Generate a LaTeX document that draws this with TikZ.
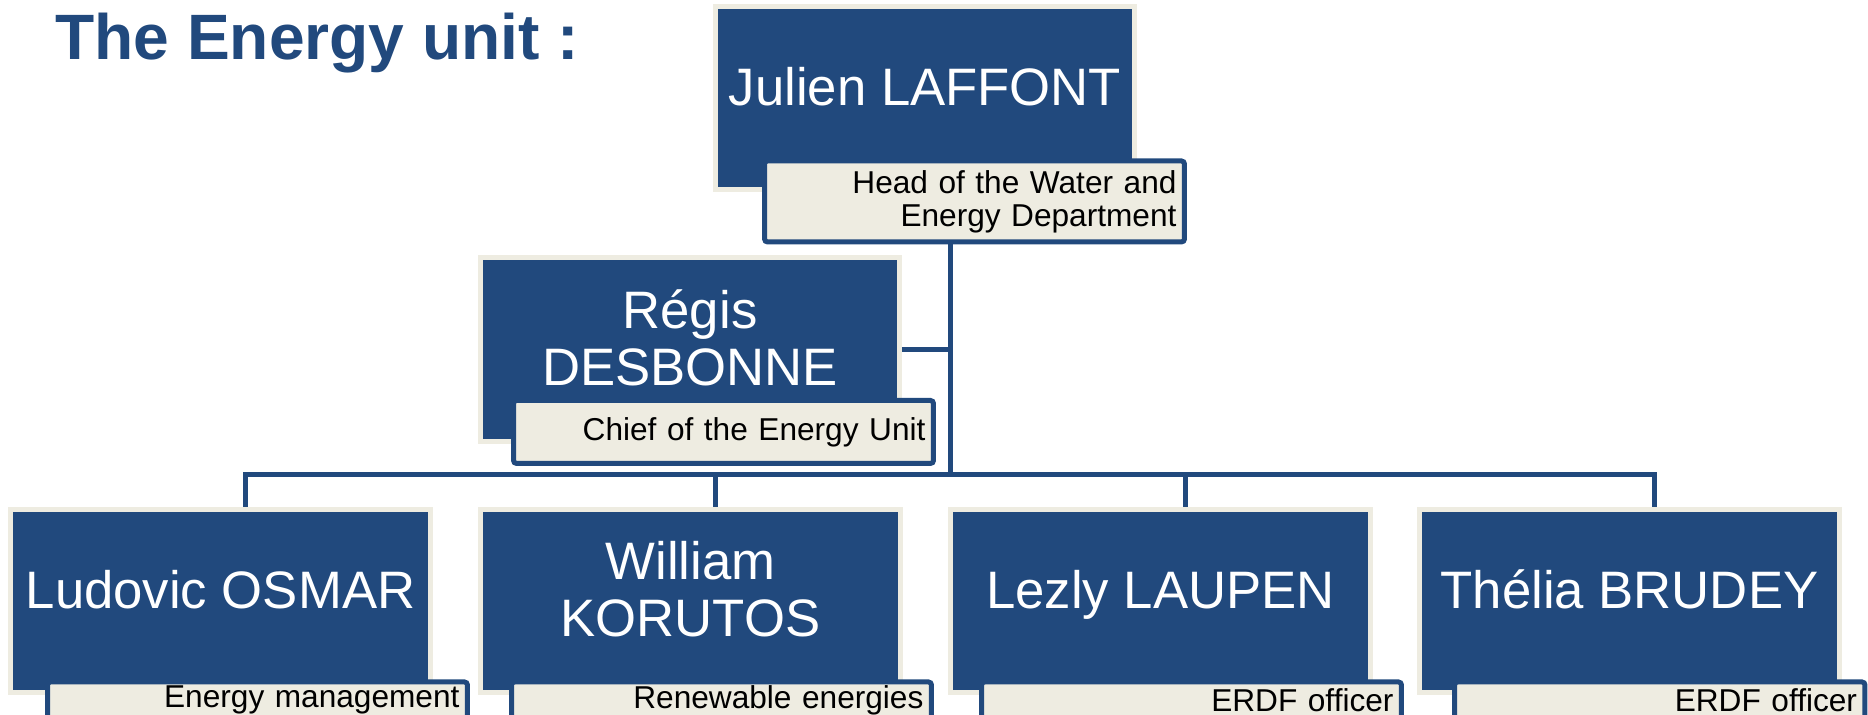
\documentclass[tikz,border=0pt]{standalone}
\usepackage{fontspec}
\setmainfont{Liberation Sans}
\usepackage{xcolor}
\usetikzlibrary{calc,positioning,backgrounds}
\definecolor{unitblue}{RGB}{33,73,125}
\definecolor{unitbeige}{RGB}{238,236,225}
\tikzset{
  person/.style={
      draw=unitbeige,
      fill=unitblue,
      line width=1mm,
      minimum width=84mm,
      minimum height=36.8mm,
      inner sep=0pt,
  },
  who/.style={
      text=white,
      font=\fontsize{30pt}{32.3pt}\selectfont,
      align=center,
      text depth=0pt,
      yshift=2.4mm,
  },
  role/.style={
      draw=unitblue,
      fill=unitbeige,
      line width=1mm,
      rounded corners=0.6mm,
      anchor=north east,
      font=\fontsize{18pt}{18.7pt}\selectfont,
      align=right,
      text width=#1,
      inner xsep=1.6mm,
      inner ysep=0pt,
  },
  role/.default=80.8mm,
  link/.style={
      draw=unitblue,
      line width=1mm,
  },
  heading/.style={
      text=unitblue,
      font=\bfseries\fontsize{36.5pt}{40pt}\selectfont,
      anchor=base west,
      inner sep=0pt,
  },
}

\begin{document}
\begin{tikzpicture}[x=0.02cm,y=-0.02cm]
  \useasboundingbox (0,0) rectangle (1868,715);
  \clip (0,0) rectangle (1868,715);
  \node[heading] (title) at (55,60) {The Energy unit :};

  \node[person,label={[who]center:Julien LAFFONT}] (j) at (925,98) {};
  \node[role,minimum height=16.2mm] (js) at ($(j.south east)+(49.5,-34)$)
    {Head of the Water and\\Energy Department};

  \node[person,label={[who]center:Régis\\DESBONNE}] (r) at (690,349.5) {};
  \node[role,minimum height=12.6mm] (rs) at ($(r.south east)+(33.5,-46)$)
    {Chief of the Energy Unit};

  \node[person,label={[who]center:Ludovic OSMAR}] (l) at (220.5,601) {};
  \node[role,minimum height=7.3mm] (ls) at ($(l.south east)+(37,-16)$) {Energy management};
  \node[person,label={[who]center:William\\KORUTOS}] (w) at (690.5,601) {};
  \node[role,minimum height=7.3mm] (ws) at ($(w.south east)+(31,-16)$) {Renewable energies};
  \node[person,label={[who]center:Lezly LAUPEN}] (z) at (1160.5,601) {};
  \node[role,minimum height=7.3mm] (zs) at ($(z.south east)+(31,-16)$) {ERDF officer};
  \node[person,label={[who]center:Thélia BRUDEY}] (t) at (1629.5,601) {};
  \node[role=78.9mm,minimum height=7.3mm] (ts) at ($(t.south east)+(25.5,-16)$) {ERDF officer};

  \coordinate (bus) at (950,475);
  \coordinate (ltop) at ([xshift=5mm]l.north);
  \coordinate (wtop) at ([xshift=5mm]w.north);
  \coordinate (ztop) at ([xshift=5mm]z.north);
  \coordinate (ttop) at ([xshift=5mm]t.north);
  \begin{scope}[on background layer]
    \draw[link] (js.south -| bus) -- (bus);
    \draw[link] (r.east) -- (r.east -| bus);
    \draw[link] (ltop) |- (bus) -| (ttop);
    \draw[link] (wtop |- bus) -- (wtop);
    \draw[link] (ztop |- bus) -- (ztop);
  \end{scope}
\end{tikzpicture}
\end{document}
